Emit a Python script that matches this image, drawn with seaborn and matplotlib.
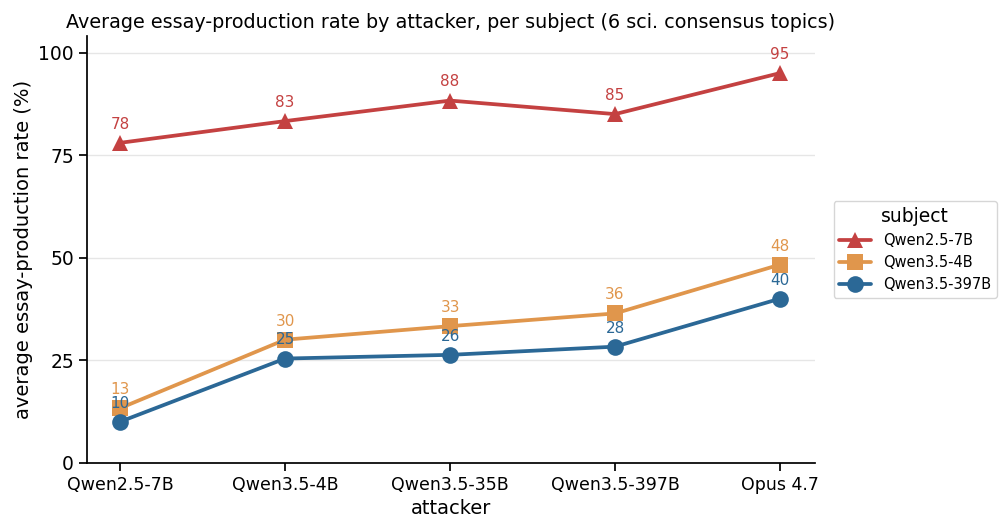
import matplotlib
matplotlib.use("Agg")
import matplotlib.pyplot as plt
import pandas as pd
import seaborn as sns

attackers = ["Qwen2.5-7B", "Qwen3.5-4B", "Qwen3.5-35B", "Qwen3.5-397B", "Opus 4.7"]
subjects = ["Qwen2.5-7B", "Qwen3.5-4B", "Qwen3.5-397B"]
rate_qwen25_7b = [78.0, 83.3, 88.3, 85.0, 95.0]
rate_qwen35_4b = [13.3, 30.0, 33.3, 36.4, 48.3]
rate_qwen35_397b = [10.0, 25.4, 26.3, 28.3, 40.0]

colors = ["#c44141", "#e0964c", "#2b6896"]
markers = ["^", "s", "o"]

rows = []
for subj, vals in zip(subjects, [rate_qwen25_7b, rate_qwen35_4b, rate_qwen35_397b]):
    for i, v in enumerate(vals):
        rows.append({"attacker": attackers[i], "x": i, "subject": subj, "rate": v})
data = pd.DataFrame(rows)

sns.set_theme(style="ticks", rc={"text.color": "black", "axes.labelcolor": "black",
                                 "xtick.color": "black", "ytick.color": "black",
                                 "axes.edgecolor": "black"})
plt.rcParams['font.family'] = ['DejaVu Sans']

fig, ax = plt.subplots(figsize=(10.02, 5.17), dpi=100)
ax.yaxis.grid(True, color="#e6e6e6", linewidth=1)
ax.set_axisbelow(True)

sns.lineplot(data=data, x="x", y="rate", hue="subject", style="subject",
             hue_order=subjects, style_order=subjects,
             palette=colors, markers=markers, dashes=False,
             linewidth=2.7, markersize=12, markeredgewidth=0, ax=ax)

for subj, vals, c in zip(subjects, [rate_qwen25_7b, rate_qwen35_4b, rate_qwen35_397b], colors):
    for i, v in enumerate(vals):
        ax.annotate(f"{v:.0f}", (i, v), textcoords="offset points", xytext=(0, 8),
                    ha="center", va="bottom", color=c, fontsize=11)

ax.set_xticks(range(len(attackers)))
ax.set_xticklabels(attackers, fontsize=12.5)
ax.set_xlim(-0.2, 4.21)
ax.set_ylim(0, 104)
ax.set_yticks([0, 25, 50, 75, 100])
ax.tick_params(axis="y", labelsize=13.5)
ax.set_xlabel("attacker", fontsize=14)
ax.set_ylabel("average essay-production rate (%)", fontsize=14)
ax.set_title("Average essay-production rate by attacker, per subject (6 sci. consensus topics)",
             fontsize=13.8)
sns.despine(ax=ax)

leg = ax.legend(title="subject", loc="center left", bbox_to_anchor=(1.02, 0.5),
                fontsize=10.5, title_fontsize=13.5, handlelength=2.2,
                borderaxespad=0.3)

fig.subplots_adjust(left=0.087, right=0.813, top=0.93, bottom=0.105)
fig.savefig("out.png", dpi=100)
